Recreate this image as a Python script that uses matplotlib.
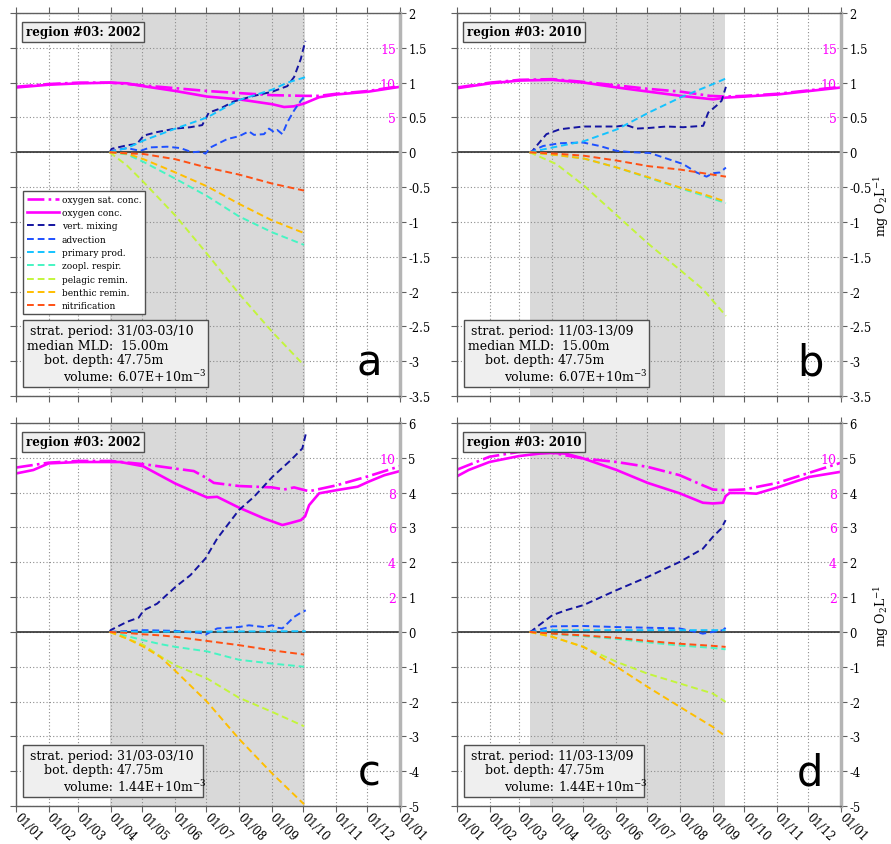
import matplotlib
matplotlib.use('Agg')
import matplotlib.pyplot as plt
from matplotlib.patches import Rectangle
from matplotlib.ticker import FuncFormatter, FixedLocator

plt.rcParams['font.family'] = ['DejaVu Serif']
plt.rcParams['axes.unicode_minus'] = False
plt.rcParams['mathtext.fontset'] = 'dejavuserif'

# ---------------- data ----------------
MONTH_DAYS = [0, 31, 59, 90, 120, 151, 181, 212, 243, 273, 304, 334, 365]
MONTH_LABELS = ['01/01', '01/02', '01/03', '01/04', '01/05', '01/06', '01/07',
                '01/08', '01/09', '01/10', '01/11', '01/12', '01/01']

LABELS = ['oxygen sat. conc.', 'oxygen conc.', 'vert. mixing', 'advection',
          'primary prod.', 'zoopl. respir.', 'pelagic remin.', 'benthic remin.',
          'nitrification']
COLORS = ['#ff00ff', '#ff00ff', '#1414a0', '#1e50ff', '#14c3ff', '#46f5c3',
          '#c3f53c', '#ffbe00', '#ff5014']

# stratification periods (day of year)
STRAT_2002 = (89, 275)
STRAT_2010 = (69, 255)

# ---- panel a (2002, top) ----  oxygen in mg/L
A_O2_D = [0, 31, 59.7, 89.9, 105.5, 120.7, 151.5, 181.7, 211.9, 243.6, 254.8, 264.3, 273.8, 288.1, 304.6, 334.8, 365]
A_O2_V = [9.3, 9.7, 9.9, 10.0, 9.9, 9.5, 8.8, 8.0, 7.6, 6.9, 6.5, 6.6, 7.0, 7.9, 8.3, 8.7, 9.4]
A_SAT_D = [0, 31, 59.7, 89.9, 120.7, 151.5, 181.7, 211.9, 243.6, 273.8, 288.1, 304.6, 334.8, 365]
A_SAT_V = [9.4, 9.8, 10.0, 10.0, 9.6, 9.2, 8.8, 8.5, 8.2, 8.1, 8.1, 8.4, 8.8, 9.5]
A_VMIX_D = [89, 91, 105.5, 115, 121.4, 134.1, 151.5, 165.8, 177, 183.3, 194.4, 207.1, 226.2, 243.6, 257.9, 264.3, 270.7, 275]
A_VMIX_V = [0, 0.05, 0.10, 0.12, 0.24, 0.29, 0.34, 0.36, 0.39, 0.57, 0.63, 0.73, 0.81, 0.87, 0.95, 1.08, 1.34, 1.60]
A_ADV_D = [89, 91.2, 105.5, 118.2, 127.7, 143.6, 156.3, 167.4, 175.4, 180.1, 184.9, 200.8, 211.9, 221.4, 226.2, 235.7, 240.5, 245.2, 248.4, 253.2, 257.9, 264.3, 270.7, 274.8]
A_ADV_V = [0, 0.02, 0.06, 0.02, 0.07, 0.08, 0.06, 0.0, 0.01, -0.02, 0.07, 0.19, 0.23, 0.30, 0.25, 0.26, 0.34, 0.29, 0.32, 0.26, 0.43, 0.60, 0.74, 0.81]
A_PP_D = [89, 91.2, 105.5, 121.4, 151.5, 181.7, 200.8, 211.9, 243.6, 257.9, 275.4]
A_PP_V = [0, 0.01, 0.06, 0.17, 0.34, 0.50, 0.66, 0.75, 0.90, 1.0, 1.08]
A_STD_D = [89, 105.5, 121.4, 151.5, 181.7, 211.9, 243.6, 273.8]
A_ZOO_V = [0, -0.03, -0.14, -0.38, -0.63, -0.92, -1.15, -1.33]
A_PEL_V = [0, -0.19, -0.43, -0.91, -1.46, -2.03, -2.58, -3.06]
A_BEN_V = [0, -0.02, -0.10, -0.29, -0.49, -0.74, -0.98, -1.16]
A_NIT_V = [0, -0.015, -0.025, -0.10, -0.22, -0.32, -0.45, -0.55]

# ---- panel b (2010, top) ----
B_O2_D = [0, 31.7, 59.6, 90.7, 120.8, 152.2, 182.3, 212.8, 237.2, 243.5, 255.6, 273.4, 304.8, 334.9, 365]
B_O2_V = [9.2, 9.9, 10.3, 10.4, 10.0, 9.3, 8.7, 8.1, 7.7, 7.6, 7.85, 8.0, 8.3, 8.8, 9.3]
B_SAT_D = [0, 31.7, 59.6, 90.7, 120.8, 152.2, 182.3, 212.8, 240.4, 255.6, 273.4, 304.8, 334.9, 365]
B_SAT_V = [9.3, 10.0, 10.4, 10.5, 10.1, 9.6, 9.1, 8.7, 8.1, 8.0, 8.1, 8.4, 8.9, 9.4]
B_VMIX_D = [69, 70.7, 75.5, 85, 97.7, 119.9, 151.6, 161.1, 170.6, 183.3, 199.2, 215, 234, 238.8, 246.7, 251.5, 255.6]
B_VMIX_V = [0, 0.0, 0.09, 0.26, 0.33, 0.37, 0.37, 0.39, 0.34, 0.35, 0.37, 0.36, 0.38, 0.57, 0.67, 0.74, 0.94]
B_ADV_D = [69, 81.8, 97.7, 119.9, 135.7, 151.6, 167.4, 183.3, 199.2, 215, 227.7, 237.2, 243.5, 249.9, 255.6]
B_ADV_V = [0, 0.09, 0.13, 0.14, 0.09, 0.02, 0.0, -0.01, -0.09, -0.17, -0.29, -0.35, -0.30, -0.29, -0.22]
B_PP_D = [69, 97.7, 120.8, 152.2, 182.3, 212.8, 243.5, 255.6]
B_PP_V = [0, 0.09, 0.16, 0.33, 0.57, 0.79, 0.98, 1.06]
B_STD_D = [69, 94.5, 120.8, 152.2, 182.3, 212.8, 234, 255.6]
B_ZOO_V = [0, -0.04, -0.09, -0.22, -0.37, -0.52, -0.62, -0.73]
B_PEL_V = [0, -0.17, -0.48, -0.91, -1.32, -1.70, -1.97, -2.35]
B_BEN_V = [0, -0.04, -0.09, -0.22, -0.36, -0.51, -0.60, -0.71]
B_NIT_V = [0, -0.02, -0.05, -0.12, -0.20, -0.25, -0.30, -0.35]

# ---- panel c (2002, bottom) ----
C_O2_D = [0, 16.5, 31, 59.7, 89.9, 99.1, 120.7, 151.5, 181.7, 191.2, 211.9, 235.7, 253.2, 261.1, 270.7, 274.8, 278.6, 288.1, 304.6, 324.7, 334.8, 350.1, 365]
C_O2_V = [9.10, 9.30, 9.68, 9.76, 9.76, 9.76, 9.52, 8.52, 7.72, 7.76, 7.14, 6.52, 6.14, 6.26, 6.42, 6.64, 7.28, 7.96, 8.14, 8.34, 8.62, 9.00, 9.24]
C_SAT_D = [0, 31, 59.7, 89.9, 120.7, 151.5, 169, 181.7, 188, 211.9, 243.6, 254.8, 264.3, 278.6, 304.6, 334.8, 365]
C_SAT_V = [9.44, 9.72, 9.82, 9.82, 9.64, 9.38, 9.24, 8.82, 8.56, 8.38, 8.30, 8.18, 8.30, 8.08, 8.42, 8.94, 9.52]
C_VMIX_D = [89, 89.9, 105.5, 116.6, 121.4, 134.1, 151.5, 165.8, 180.1, 191.2, 211.9, 226.2, 243.6, 261.1, 272.2, 275.4]
C_VMIX_V = [0, 0.05, 0.29, 0.41, 0.62, 0.81, 1.29, 1.63, 2.11, 2.68, 3.50, 3.88, 4.45, 4.93, 5.27, 5.68]
C_ADV_D = [89, 121.4, 151.5, 175.4, 180.1, 191.2, 211.9, 221.4, 235.7, 243.6, 248.4, 253.2, 264.3, 270.7, 275.4]
C_ADV_V = [0, 0.05, 0.03, -0.03, -0.08, 0.10, 0.14, 0.19, 0.14, 0.19, 0.12, 0.10, 0.43, 0.55, 0.62]
C_PP_D = [89, 181.7, 275.4]
C_PP_V = [0, 0.01, 0.02]
C_STD_D = [89, 105.5, 121.4, 137.2, 151.5, 181.7, 211.9, 243.6, 273.8]
C_ZOO_V = [0, -0.12, -0.24, -0.35, -0.43, -0.56, -0.80, -0.91, -1.0]
C_PEL_V = [0, -0.19, -0.38, -0.70, -0.96, -1.34, -1.89, -2.30, -2.71]
C_BEN_V = [0, -0.19, -0.43, -0.72, -1.12, -2.01, -3.07, -4.07, -4.95]
C_NIT_V = [0, -0.03, -0.07, -0.10, -0.14, -0.26, -0.38, -0.53, -0.65]

# ---- panel d (2010, bottom) ----
D_O2_D = [0, 11.1, 30.8, 58.8, 77.9, 90.6, 103.3, 120.2, 151.7, 181.2, 211.7, 233.7, 243.2, 252.8, 255.3, 259.1, 272.8, 284.6, 304.6, 334.8, 365]
D_O2_V = [8.94, 9.30, 9.76, 10.10, 10.24, 10.28, 10.24, 9.96, 9.30, 8.56, 7.96, 7.42, 7.38, 7.42, 7.80, 7.98, 7.98, 7.94, 8.30, 8.90, 9.20]
D_SAT_D = [0, 30.8, 58.8, 77.9, 90.6, 120.2, 151.7, 181.2, 211.7, 233.7, 243.2, 255.3, 272.8, 304.6, 334.8, 365]
D_SAT_V = [9.32, 10.06, 10.34, 10.44, 10.28, 9.96, 9.76, 9.48, 9.00, 8.42, 8.18, 8.14, 8.18, 8.56, 9.14, 9.72]
D_VMIX_D = [69, 69.9, 77.9, 90.6, 103.3, 120.2, 151.7, 181.2, 211.7, 233.7, 243.2, 251.2, 255.3]
D_VMIX_V = [0, 0.0, 0.19, 0.48, 0.62, 0.77, 1.20, 1.58, 2.01, 2.39, 2.73, 2.97, 3.21]
D_ADV_D = [69, 90.6, 120.2, 151.7, 181.2, 211.7, 233.7, 243.2, 252.8, 255.3]
D_ADV_V = [0, 0.16, 0.17, 0.14, 0.12, 0.10, -0.05, 0.0, 0.05, 0.12]
D_PP_D = [69, 90.6, 181.2, 255.3]
D_PP_V = [0, 0.05, 0.05, 0.05]
D_STD_D = [69, 90.6, 120.2, 151.7, 181.2, 211.7, 243.2, 255.3]
D_ZOO_V = [0, -0.06, -0.12, -0.20, -0.30, -0.39, -0.46, -0.50]
D_PEL_V = [0, -0.14, -0.43, -0.86, -1.20, -1.48, -1.77, -2.01]
D_BEN_V = [0, -0.14, -0.43, -1.0, -1.58, -2.15, -2.73, -3.0]
D_NIT_V = [0, -0.05, -0.10, -0.17, -0.26, -0.34, -0.40, -0.43]

INFO_KEYS_TOP = ['strat. period:', 'median MLD:', 'bot. depth:', 'volume:']
INFO_KEYS_BOT = ['strat. period:', 'bot. depth:', 'volume:']

# ---------------- drawing ----------------
fig = plt.figure(figsize=(8.91, 8.45), dpi=100)
W = 384 / 891
H = 383 / 845
LEFTS = [16 / 891, 457 / 891]
BOTS = [1 - 397 / 845, 1 - 807 / 845]


def fmt(v, pos):
    return '%g' % v


def panel(ax, title, strat, o2_d, o2_v, sat_d, sat_v, series, factor,
          ylim, yticks, twin_ticks, info_keys, info_vals, box_right, letter,
          show_xlabels, show_ylabel, show_legend):
    # twin (oxygen) axis with magenta labels inside -- create first
    tw = ax.twinx()

    ax.axvspan(strat[0], strat[1], color='#d9d9d9', zorder=0.2, lw=0)
    ax.set_xlim(0, 365)
    ax.set_ylim(*ylim)
    ax.set_axisbelow(True)
    ax.grid(True, ls=(0, (1, 2)), color='#8c8c8c', lw=0.8)
    ax.axhline(0, color='#303030', lw=1.2, zorder=1.5)

    ax.plot(sat_d, [v / factor for v in sat_v], color=COLORS[0], lw=1.9,
            ls='-.', label=LABELS[0], zorder=2)
    ax.plot(o2_d, [v / factor for v in o2_v], color=COLORS[1], lw=1.9,
            ls='-', label=LABELS[1], zorder=2)
    for i, (d, v) in enumerate(series):
        ax.plot(d, v, color=COLORS[i + 2], lw=1.4, ls=(0, (3.5, 2)),
                label=LABELS[i + 2], zorder=3)

    ax.xaxis.set_major_locator(FixedLocator(MONTH_DAYS))
    ax.set_yticks(yticks)
    ax.yaxis.set_major_formatter(FuncFormatter(fmt))
    ax.tick_params(axis='both', which='both', direction='out', length=4,
                   width=0.8, color='#606060', labelsize=8.3,
                   top=True, bottom=True, left=True, right=True,
                   labelleft=False, labelright=True, labeltop=False,
                   labelbottom=show_xlabels, pad=2)
    if show_xlabels:
        ax.set_xticklabels(MONTH_LABELS, rotation=-45, ha='left',
                           va='center', rotation_mode='anchor')
    for s in ['top', 'left', 'bottom']:
        ax.spines[s].set_color('#606060')
        ax.spines[s].set_linewidth(1.0)
    ax.spines['right'].set_color('#b4b4b4')
    ax.spines['right'].set_linewidth(2.5)

    if show_ylabel:
        ax.yaxis.set_label_position('right')
        ax.set_ylabel(r'mg O$_2$L$^{-1}$', fontsize=9)
        ax.yaxis.set_label_coords(1.081, 0.5)

    tw.set_ylim(ylim[0] * factor, ylim[1] * factor)
    tw.set_yticks(twin_ticks)
    tw.tick_params(axis='y', left=False, right=True, labelleft=False,
                   labelright=True, length=0, pad=-3, labelsize=9,
                   labelcolor='#ff00ff')
    for lbl in tw.get_yticklabels():
        lbl.set_ha('right')
    for s in tw.spines.values():
        s.set_visible(False)

    ax.text(0.025, 0.968, title, transform=ax.transAxes, fontsize=8.5,
            fontweight='bold', va='top', ha='left', zorder=10,
            bbox=dict(boxstyle='square,pad=0.3', fc='#efefef', ec='#505050', lw=1))

    n = len(info_keys)
    ys = [0.172, 0.133, 0.094, 0.052][-n:]
    top = 0.198 if n == 4 else 0.159
    ax.add_patch(Rectangle((0.018, 0.0235), box_right - 0.018, top - 0.0235,
                           transform=ax.transAxes, fc='#efefef', ec='#505050',
                           lw=1, zorder=8))
    for k, v, y in zip(info_keys, info_vals, ys):
        ax.text(0.252, y, k, transform=ax.transAxes, ha='right', va='center',
                fontsize=9, zorder=9)
        ax.text(0.262, y, v, transform=ax.transAxes, ha='left', va='center',
                fontsize=9, zorder=9)

    ax.text(0.92, 0.057, letter, transform=ax.transAxes, ha='center',
            va='baseline', fontsize=30, family='DejaVu Sans', zorder=9)

    if show_legend:
        leg = ax.legend(loc='upper left', bbox_to_anchor=(0.018, 0.535),
                        fontsize=6.5, frameon=True, fancybox=False,
                        edgecolor='#505050', framealpha=1, borderaxespad=0,
                        handlelength=3.6, handletextpad=0.3, labelspacing=0.48,
                        borderpad=0.4)
        leg.get_frame().set_linewidth(1)
        leg.set_zorder(10)


axA = fig.add_axes([LEFTS[0], BOTS[0], W, H])
panel(axA, 'region #03: 2002', STRAT_2002, A_O2_D, A_O2_V, A_SAT_D, A_SAT_V,
      [(A_VMIX_D, A_VMIX_V), (A_ADV_D, A_ADV_V), (A_PP_D, A_PP_V),
       (A_STD_D, A_ZOO_V), (A_STD_D, A_PEL_V), (A_STD_D, A_BEN_V),
       (A_STD_D, A_NIT_V)],
      10, (-3.5, 2), [-3.5, -3, -2.5, -2, -1.5, -1, -0.5, 0, 0.5, 1, 1.5, 2],
      [5, 10, 15], INFO_KEYS_TOP,
      ['31/03-03/10', ' 15.00m', '47.75m', '6.07E+10m$^{-3}$'], 0.499, 'a',
      False, False, True)

axB = fig.add_axes([LEFTS[1], BOTS[0], W, H])
panel(axB, 'region #03: 2010', STRAT_2010, B_O2_D, B_O2_V, B_SAT_D, B_SAT_V,
      [(B_VMIX_D, B_VMIX_V), (B_ADV_D, B_ADV_V), (B_PP_D, B_PP_V),
       (B_STD_D, B_ZOO_V), (B_STD_D, B_PEL_V), (B_STD_D, B_BEN_V),
       (B_STD_D, B_NIT_V)],
      10, (-3.5, 2), [-3.5, -3, -2.5, -2, -1.5, -1, -0.5, 0, 0.5, 1, 1.5, 2],
      [5, 10, 15], INFO_KEYS_TOP,
      ['11/03-13/09', ' 15.00m', '47.75m', '6.07E+10m$^{-3}$'], 0.5, 'b',
      False, True, False)

axC = fig.add_axes([LEFTS[0], BOTS[1], W, H])
panel(axC, 'region #03: 2002', STRAT_2002, C_O2_D, C_O2_V, C_SAT_D, C_SAT_V,
      [(C_VMIX_D, C_VMIX_V), (C_ADV_D, C_ADV_V), (C_PP_D, C_PP_V),
       (C_STD_D, C_ZOO_V), (C_STD_D, C_PEL_V), (C_STD_D, C_BEN_V),
       (C_STD_D, C_NIT_V)],
      2, (-5, 6), list(range(-5, 7)), [2, 4, 6, 8, 10], INFO_KEYS_BOT,
      ['31/03-03/10', '47.75m', '1.44E+10m$^{-3}$'], 0.488, 'c',
      True, False, False)

axD = fig.add_axes([LEFTS[1], BOTS[1], W, H])
panel(axD, 'region #03: 2010', STRAT_2010, D_O2_D, D_O2_V, D_SAT_D, D_SAT_V,
      [(D_VMIX_D, D_VMIX_V), (D_ADV_D, D_ADV_V), (D_PP_D, D_PP_V),
       (D_STD_D, D_ZOO_V), (D_STD_D, D_PEL_V), (D_STD_D, D_BEN_V),
       (D_STD_D, D_NIT_V)],
      2, (-5, 6), list(range(-5, 7)), [2, 4, 6, 8, 10], INFO_KEYS_BOT,
      ['11/03-13/09', '47.75m', '1.44E+10m$^{-3}$'], 0.487, 'd',
      True, True, False)

fig.savefig('out.png', dpi=100)
